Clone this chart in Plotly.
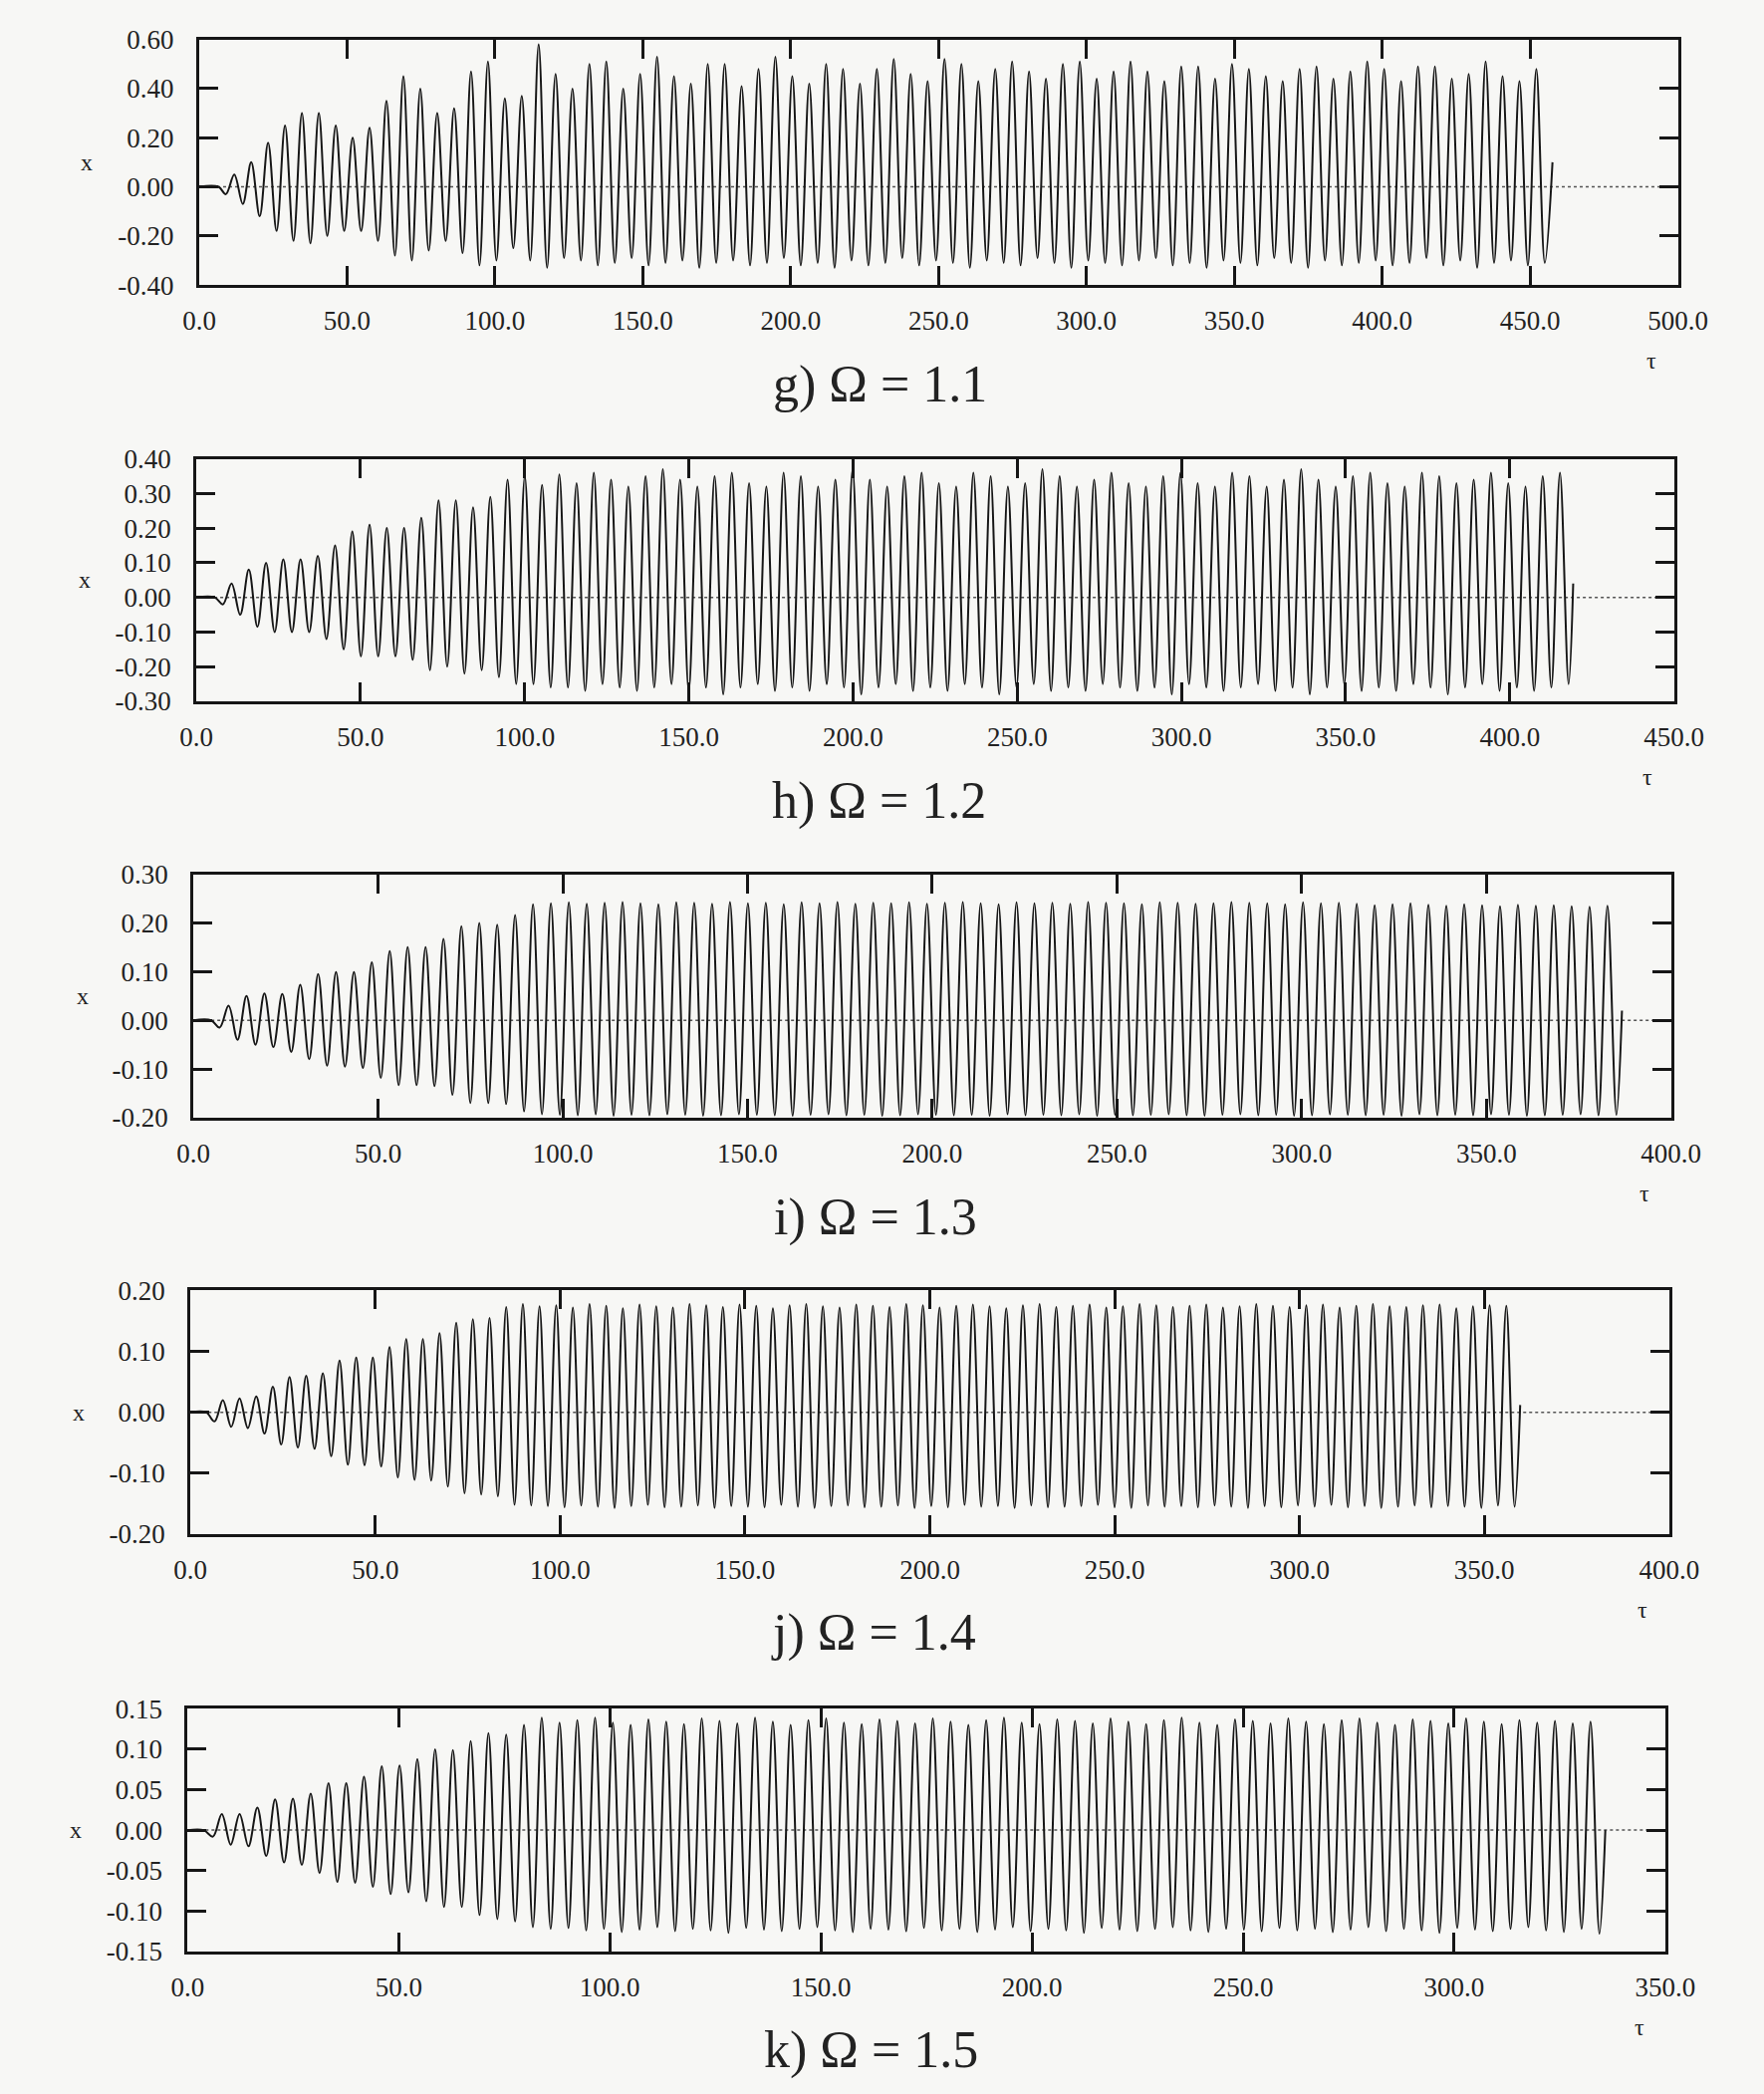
import numpy as np
import plotly.graph_objects as go

# ---------------- data ----------------
# each panel: extrema of x(tau) (minima and maxima alternate, starting with a minimum)
panel_labels = ["g) Ω = 1.1", "h) Ω = 1.2", "i) Ω = 1.3", "j) Ω = 1.4", "k) Ω = 1.5"]

# g) Omega = 1.1
g_max = [0.05, 0.10, 0.18, 0.25, 0.30, 0.30, 0.25, 0.20, 0.24, 0.35, 0.45, 0.40, 0.30, 0.32, 0.47, 0.51, 0.36, 0.37, 0.58,
         0.46, 0.40, 0.50, 0.51, 0.40, 0.46, 0.53, 0.45, 0.42, 0.50, 0.50, 0.41, 0.48, 0.53, 0.45, 0.42, 0.50, 0.48, 0.42,
         0.48, 0.52, 0.46, 0.43, 0.52, 0.50, 0.43, 0.48, 0.51, 0.47, 0.44, 0.50, 0.51, 0.44, 0.47, 0.51, 0.47, 0.43, 0.49, 0.49,
         0.44, 0.50, 0.48, 0.45, 0.43, 0.48, 0.49, 0.44, 0.47, 0.51, 0.48, 0.43, 0.49, 0.49, 0.44, 0.46, 0.51, 0.45, 0.43, 0.48]
g_min = [-0.03, -0.07, -0.12, -0.18, -0.22, -0.23, -0.20, -0.18, -0.18, -0.22, -0.28, -0.30, -0.26, -0.22, -0.27, -0.32, -0.30, -0.25, -0.30,
         -0.33, -0.29, -0.30, -0.32, -0.31, -0.29, -0.32, -0.31, -0.30, -0.33, -0.31, -0.30, -0.32, -0.31, -0.29, -0.32, -0.31, -0.33, -0.30, -0.32,
         -0.31, -0.29, -0.32, -0.30, -0.31, -0.33, -0.30, -0.31, -0.32, -0.29, -0.31, -0.33, -0.30, -0.31, -0.32, -0.30, -0.29, -0.32, -0.31, -0.33,
         -0.30, -0.31, -0.32, -0.29, -0.31, -0.33, -0.30, -0.32, -0.31, -0.30, -0.32, -0.31, -0.29, -0.32, -0.30, -0.33, -0.31, -0.30, -0.32, -0.31]
g_time = [6.5, 9.0, 455.0, 457.6]   # flat until, first extremum, last extremum, end of run
g_end = 0.10

# h) Omega = 1.2
h_max = [0.04, 0.08, 0.10, 0.11, 0.11, 0.12, 0.15, 0.19, 0.21, 0.20, 0.20, 0.23, 0.28, 0.28, 0.26, 0.29, 0.34, 0.35, 0.325, 0.355,
         0.33, 0.36, 0.34, 0.32, 0.35, 0.37, 0.34, 0.32, 0.35, 0.36, 0.33, 0.32, 0.36, 0.35, 0.32, 0.34, 0.37, 0.34, 0.32, 0.35,
         0.36, 0.33, 0.32, 0.36, 0.35, 0.32, 0.33, 0.37, 0.35, 0.32, 0.34, 0.36, 0.33, 0.32, 0.35, 0.36, 0.33, 0.32, 0.36, 0.35,
         0.32, 0.34, 0.37, 0.34, 0.32, 0.35, 0.36, 0.33, 0.32, 0.36, 0.35, 0.33, 0.34, 0.36, 0.33, 0.32, 0.35, 0.36]
h_min = [-0.02, -0.05, -0.085, -0.10, -0.10, -0.10, -0.12, -0.15, -0.17, -0.17, -0.17, -0.18, -0.21, -0.20, -0.22, -0.21, -0.23, -0.25, -0.25, -0.26,
         -0.26, -0.27, -0.25, -0.26, -0.27, -0.26, -0.25, -0.27, -0.26, -0.28, -0.26, -0.25, -0.27, -0.26, -0.27, -0.25, -0.26, -0.28, -0.26, -0.25,
         -0.27, -0.26, -0.27, -0.25, -0.26, -0.28, -0.26, -0.25, -0.27, -0.26, -0.27, -0.25, -0.26, -0.27, -0.26, -0.28, -0.25, -0.26, -0.27, -0.26,
         -0.25, -0.27, -0.26, -0.28, -0.26, -0.25, -0.27, -0.26, -0.27, -0.25, -0.26, -0.28, -0.26, -0.25, -0.27, -0.26, -0.27, -0.26, -0.25]
h_time = [5.6, 8.1, 417.9, 419.3]
h_end = 0.04

# i) Omega = 1.3
i_max = [0.03, 0.05, 0.055, 0.054, 0.073, 0.095, 0.099, 0.099, 0.119, 0.142, 0.150, 0.150, 0.167, 0.193, 0.200, 0.196, 0.216, 0.238,
         0.240, 0.242, 0.239, 0.241, 0.243, 0.240, 0.238, 0.242, 0.241, 0.239, 0.243, 0.240, 0.241, 0.238, 0.242, 0.240, 0.243, 0.239, 0.241, 0.240,
         0.242, 0.239, 0.241, 0.243, 0.240, 0.238, 0.242, 0.240, 0.241, 0.239, 0.243, 0.241, 0.240, 0.238, 0.242, 0.241, 0.239, 0.240, 0.243, 0.241,
         0.240, 0.238, 0.242, 0.240, 0.241, 0.239, 0.236, 0.238, 0.240, 0.237, 0.235, 0.238, 0.236, 0.234, 0.237, 0.235, 0.236, 0.234, 0.233, 0.235]
i_min = [-0.015, -0.04, -0.05, -0.055, -0.065, -0.08, -0.093, -0.095, -0.098, -0.118, -0.133, -0.133, -0.135, -0.153, -0.17, -0.17, -0.172, -0.187, -0.193,
         -0.194, -0.195, -0.193, -0.196, -0.194, -0.195, -0.193, -0.194, -0.196, -0.195, -0.193, -0.194, -0.195, -0.196, -0.194, -0.193, -0.195, -0.194, -0.196, -0.195,
         -0.193, -0.194, -0.195, -0.194, -0.196, -0.193, -0.195, -0.194, -0.195, -0.193, -0.196, -0.194, -0.195, -0.194, -0.193, -0.195, -0.196, -0.194, -0.193, -0.195,
         -0.194, -0.196, -0.195, -0.193, -0.194, -0.195, -0.194, -0.196, -0.193, -0.195, -0.194, -0.195, -0.193, -0.194, -0.196, -0.195, -0.194, -0.193, -0.195, -0.194]
i_time = [4.8, 7.1, 385.2, 386.7]
i_end = 0.02

# j) Omega = 1.4
j_max = [0.02, 0.023, 0.026, 0.042, 0.058, 0.06, 0.064, 0.085, 0.09, 0.09, 0.107, 0.12, 0.12, 0.13, 0.147, 0.153, 0.155, 0.173, 0.178, 0.174,
         0.176, 0.172, 0.178, 0.175, 0.171, 0.177, 0.174, 0.172, 0.178, 0.176, 0.173, 0.177, 0.175, 0.171, 0.176, 0.178, 0.174, 0.172, 0.177, 0.175,
         0.173, 0.178, 0.176, 0.172, 0.175, 0.177, 0.174, 0.171, 0.176, 0.178, 0.173, 0.175, 0.177, 0.172, 0.174, 0.178, 0.176, 0.173, 0.175, 0.177,
         0.172, 0.174, 0.178, 0.175, 0.173, 0.176, 0.177, 0.172, 0.175, 0.178, 0.174, 0.173, 0.176, 0.177, 0.171, 0.174, 0.176, 0.175]
j_min = [-0.015, -0.024, -0.026, -0.035, -0.053, -0.058, -0.06, -0.072, -0.086, -0.087, -0.089, -0.107, -0.111, -0.112, -0.122, -0.133, -0.135, -0.138, -0.152, -0.153,
         -0.154, -0.156, -0.153, -0.155, -0.157, -0.154, -0.152, -0.156, -0.155, -0.153, -0.157, -0.154, -0.155, -0.156, -0.152, -0.155, -0.157, -0.154, -0.153, -0.156,
         -0.155, -0.153, -0.157, -0.154, -0.156, -0.152, -0.155, -0.154, -0.157, -0.153, -0.156, -0.155, -0.154, -0.152, -0.156, -0.157, -0.153, -0.155, -0.154, -0.156,
         -0.153, -0.155, -0.157, -0.154, -0.156, -0.153, -0.155, -0.152, -0.156, -0.154, -0.157, -0.155, -0.153, -0.156, -0.154, -0.155, -0.157, -0.153, -0.155]
j_time = [4.2, 6.5, 358.2, 359.7]
j_end = 0.012

# k) Omega = 1.5
k_max = [0.02, 0.02, 0.028, 0.038, 0.039, 0.045, 0.058, 0.058, 0.066, 0.079, 0.08, 0.088, 0.10, 0.099, 0.11, 0.12, 0.118, 0.13, 0.139, 0.133,
         0.136, 0.139, 0.133, 0.130, 0.137, 0.134, 0.131, 0.138, 0.135, 0.132, 0.139, 0.134, 0.130, 0.136, 0.138, 0.133, 0.131, 0.137, 0.135, 0.132,
         0.138, 0.134, 0.130, 0.136, 0.139, 0.133, 0.131, 0.137, 0.135, 0.132, 0.138, 0.134, 0.131, 0.136, 0.139, 0.133, 0.130, 0.137, 0.135, 0.132,
         0.138, 0.134, 0.131, 0.136, 0.138, 0.133, 0.130, 0.137, 0.135, 0.132, 0.138, 0.134, 0.131, 0.136, 0.133, 0.135, 0.132, 0.134]
k_min = [-0.008, -0.018, -0.02, -0.032, -0.04, -0.043, -0.053, -0.064, -0.065, -0.07, -0.079, -0.077, -0.088, -0.095, -0.095, -0.105, -0.11, -0.113, -0.12, -0.122,
         -0.121, -0.124, -0.122, -0.126, -0.123, -0.120, -0.125, -0.122, -0.124, -0.127, -0.121, -0.123, -0.125, -0.122, -0.120, -0.124, -0.126, -0.122, -0.123, -0.125,
         -0.121, -0.124, -0.122, -0.126, -0.123, -0.120, -0.125, -0.122, -0.124, -0.127, -0.121, -0.123, -0.125, -0.122, -0.120, -0.124, -0.126, -0.122, -0.123, -0.125,
         -0.121, -0.124, -0.122, -0.126, -0.123, -0.120, -0.125, -0.122, -0.124, -0.127, -0.121, -0.123, -0.125, -0.122, -0.120, -0.124, -0.126, -0.122, -0.128]
k_time = [3.8, 6.0, 334.4, 335.8]
k_end = 0.0

# axes
x_ranges = [[0, 500], [0, 450], [0, 400], [0, 400], [0, 350]]
x_tickvals = [[0, 50, 100, 150, 200, 250, 300, 350, 400, 450, 500],
              [0, 50, 100, 150, 200, 250, 300, 350, 400, 450],
              [0, 50, 100, 150, 200, 250, 300, 350, 400],
              [0, 50, 100, 150, 200, 250, 300, 350, 400],
              [0, 50, 100, 150, 200, 250, 300, 350]]
x_ticktext = [["0.0", "50.0", "100.0", "150.0", "200.0", "250.0", "300.0", "350.0", "400.0", "450.0", "500.0"],
              ["0.0", "50.0", "100.0", "150.0", "200.0", "250.0", "300.0", "350.0", "400.0", "450.0"],
              ["0.0", "50.0", "100.0", "150.0", "200.0", "250.0", "300.0", "350.0", "400.0"],
              ["0.0", "50.0", "100.0", "150.0", "200.0", "250.0", "300.0", "350.0", "400.0"],
              ["0.0", "50.0", "100.0", "150.0", "200.0", "250.0", "300.0", "350.0"]]
y_tickvals = [[-0.4, -0.2, 0.0, 0.2, 0.4, 0.6],
              [-0.3, -0.2, -0.1, 0.0, 0.1, 0.2, 0.3, 0.4],
              [-0.2, -0.1, 0.0, 0.1, 0.2, 0.3],
              [-0.2, -0.1, 0.0, 0.1, 0.2],
              [-0.15, -0.10, -0.05, 0.0, 0.05, 0.10, 0.15]]
y_ticktext = [["-0.40", "-0.20", "0.00", "0.20", "0.40", "0.60"],
              ["-0.30", "-0.20", "-0.10", "0.00", "0.10", "0.20", "0.30", "0.40"],
              ["-0.20", "-0.10", "0.00", "0.10", "0.20", "0.30"],
              ["-0.20", "-0.10", "0.00", "0.10", "0.20"],
              ["-0.15", "-0.10", "-0.05", "0.00", "0.05", "0.10", "0.15"]]

# ---------------- layout (page pixels) ----------------
W, H = 1771, 2102
boxes = [(188, 1713, 25, 275), (185, 1709, 452, 699), (182, 1706, 875, 1123),
         (179, 1704, 1299, 1547), (176, 1700, 1725, 1972)]
title_cx = [890, 889, 886, 883, 881]
ylab_x = [72, 70, 68, 64, 61]

INK = "#161616"
BG = "#f7f7f5"
FONT = "Liberation Serif, Times New Roman, serif"

series = [(g_min, g_max, g_time, g_end), (h_min, h_max, h_time, h_end),
          (i_min, i_max, i_time, i_end), (j_min, j_max, j_time, j_end),
          (k_min, k_max, k_time, k_end)]


def px_x(v):
    return v / W


def px_y(v):
    return 1 - v / H


def build(mins, maxs, tt, yend):
    n = len(mins) + len(maxs)
    ext = [mins[k // 2] if k % 2 == 0 else maxs[k // 2] for k in range(n)]
    times = np.linspace(tt[1], tt[2], n)
    x = [0.0, tt[0]] + list(times) + [tt[3]]
    y = [0.0, 0.0] + ext + [yend]
    return x, y


fig = go.Figure()
annotations = []
shapes = []
layout_axes = {}
for i, (mins, maxs, tt, yend) in enumerate(series):
    n = i + 1
    xs = "x" if n == 1 else f"x{n}"
    ys = "y" if n == 1 else f"y{n}"
    xk = "xaxis" if n == 1 else f"xaxis{n}"
    yk = "yaxis" if n == 1 else f"yaxis{n}"
    L, R, T, B = boxes[i]
    x, y = build(mins, maxs, tt, yend)
    fig.add_trace(go.Scatter(x=x, y=y, mode="lines", xaxis=xs, yaxis=ys,
                             line=dict(color=INK, width=2.0, shape="spline", smoothing=1.0),
                             showlegend=False, hoverinfo="skip"))
    common = dict(showline=True, linecolor=INK, linewidth=3, mirror="ticks",
                  ticks="inside", ticklen=19, tickwidth=2.5, tickcolor=INK,
                  showgrid=False, zeroline=False,
                  tickfont=dict(family=FONT, size=27, color="#222222"))
    layout_axes[xk] = dict(common, domain=[px_x(L), px_x(R)], range=x_ranges[i],
                           tickmode="array", tickvals=x_tickvals[i], ticktext=x_ticktext[i],
                           anchor=ys, ticklabelstandoff=10)
    layout_axes[yk] = dict(common, domain=[px_y(B), px_y(T)],
                           range=[y_tickvals[i][0], y_tickvals[i][-1]],
                           tickmode="array", tickvals=y_tickvals[i], ticktext=y_ticktext[i],
                           anchor=xs, ticklabelstandoff=17)
    shapes.append(dict(type="line", xref=f"{xs} domain", yref=ys, x0=0, x1=1, y0=0, y1=0,
                       line=dict(color="#555555", width=1.5, dash="dot"), layer="below"))
    annotations.append(dict(text=panel_labels[i], xref="paper", yref="paper",
                            x=px_x(title_cx[i]), y=px_y(B + 101), showarrow=False,
                            xanchor="center", yanchor="middle",
                            font=dict(family=FONT, size=52, color="#222222")))
    annotations.append(dict(text="τ", xref="paper", yref="paper",
                            x=px_x(R - 27), y=px_y(B + 77), showarrow=False,
                            xanchor="center", yanchor="middle",
                            font=dict(family=FONT, size=24, color="#222222")))
    annotations.append(dict(text="x", xref="paper", yref="paper",
                            x=px_x(ylab_x[i]), y=px_y((T + B) / 2), showarrow=False,
                            xanchor="center", yanchor="middle",
                            font=dict(family=FONT, size=24, color="#222222")))

fig.update_layout(width=W, height=H, margin=dict(l=0, r=0, t=0, b=0),
                  paper_bgcolor=BG, plot_bgcolor=BG, showlegend=False,
                  annotations=annotations, shapes=shapes, **layout_axes)

fig.write_html("out.html")
